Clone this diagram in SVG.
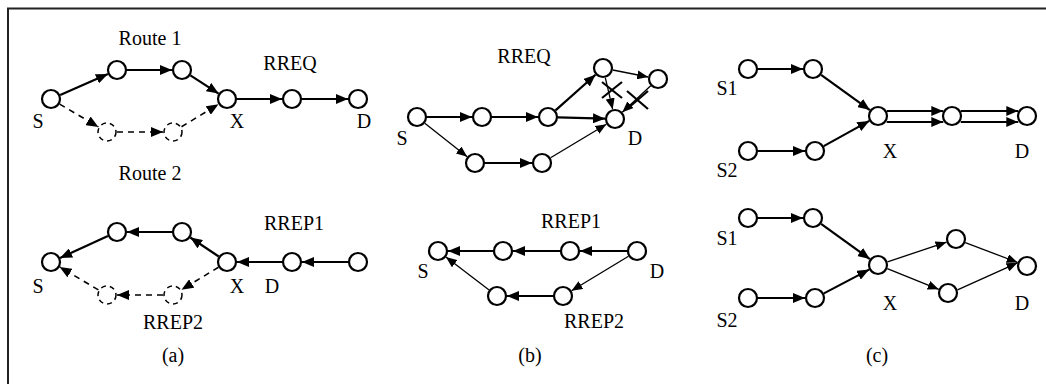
<svg xmlns="http://www.w3.org/2000/svg" width="1046" height="384" viewBox="0 0 1046 384">
<style>
.frame{fill:none;stroke:#222;stroke-width:2}
.n{fill:#fff;stroke:#000;stroke-width:2.2}
.nd{fill:#fff;stroke:#000;stroke-width:1.5;stroke-dasharray:5,4}
.th{stroke:#000;stroke-width:2.2;fill:none;marker-end:url(#ah)}
.tn{stroke:#000;stroke-width:1.3;fill:none;marker-end:url(#as)}
.ds{stroke:#000;stroke-width:1.6;fill:none;stroke-dasharray:6,5;marker-end:url(#ah)}
.x{stroke:#000;stroke-width:2.2}
text{font-family:"Liberation Serif","Times New Roman",serif;font-size:20px;fill:#000;text-anchor:middle}
</style>
<defs>
<marker id="ah" markerUnits="userSpaceOnUse" viewBox="0 0 12 10" markerWidth="12" markerHeight="10" refX="12" refY="5" orient="auto"><path d="M0,0 L12,5 L0,10 z" fill="#000"/></marker>
<marker id="as" markerUnits="userSpaceOnUse" viewBox="0 0 11 9" markerWidth="11" markerHeight="9" refX="11" refY="4.5" orient="auto"><path d="M0,0 L11,4.5 L0,9 z" fill="#000"/></marker>
</defs>
<path class="frame" d="M8,384 V8.5 H1046"/>

<g id="connectors">
<!-- (a) top -->
<line class="th" x1="60.2" y1="95" x2="107.9" y2="74"/>
<line class="th" x1="127" y1="70" x2="172" y2="70"/>
<line class="th" x1="190.4" y1="75.4" x2="218.6" y2="93.6"/>
<line class="th" x1="237" y1="99" x2="282" y2="99"/>
<line class="th" x1="302" y1="99" x2="348" y2="99"/>
<line class="ds" x1="59.6" y1="104.1" x2="98.4" y2="126.9"/>
<line class="ds" x1="117" y1="132" x2="163" y2="132"/>
<line class="ds" x1="181.5" y1="126.8" x2="218.5" y2="104.2"/>
<!-- (a) bottom -->
<line class="th" x1="107.9" y1="236.1" x2="60.1" y2="257.9"/>
<line class="th" x1="172" y1="232" x2="127" y2="232"/>
<line class="th" x1="218.7" y1="256.5" x2="190.3" y2="237.5"/>
<line class="th" x1="282" y1="262" x2="237" y2="262"/>
<line class="th" x1="348" y1="262" x2="302" y2="262"/>
<line class="ds" x1="218.5" y1="267.2" x2="181.5" y2="289.8"/>
<line class="ds" x1="163" y1="295" x2="117" y2="295"/>
<line class="ds" x1="98.4" y1="289.9" x2="59.6" y2="266.9"/>
<!-- (b) top -->
<line class="th" x1="427" y1="117" x2="472" y2="117"/>
<line class="th" x1="492" y1="117" x2="538" y2="117"/>
<line class="th" x1="558" y1="117.3" x2="605" y2="118.7"/>
<line class="th" x1="555.5" y1="110.4" x2="595.5" y2="74.7"/>
<line class="tn" x1="612.8" y1="70" x2="648.2" y2="77"/>
<line class="tn" x1="605.3" y1="77.7" x2="612.7" y2="109.3"/>
<line class="tn" x1="650.7" y1="85.8" x2="622.3" y2="112.2"/>
<line class="tn" x1="424.8" y1="123.2" x2="467.2" y2="156.8"/>
<line class="th" x1="485" y1="163" x2="532" y2="163"/>
<line class="tn" x1="550.6" y1="157.8" x2="606.4" y2="124.2"/>
<line class="x" x1="602" y1="82" x2="622" y2="98"/>
<line class="x" x1="602" y1="98" x2="622" y2="82"/>
<line class="x" x1="627" y1="91" x2="648" y2="109"/>
<line class="x" x1="627" y1="109" x2="648" y2="91"/>
<!-- (b) bottom -->
<line class="th" x1="627" y1="251" x2="580" y2="251"/>
<line class="th" x1="560" y1="251" x2="513" y2="251"/>
<line class="th" x1="493" y1="251" x2="448" y2="251"/>
<line class="tn" x1="628.5" y1="256.2" x2="571.5" y2="290.8"/>
<line class="th" x1="553" y1="296" x2="507" y2="296"/>
<line class="tn" x1="489.1" y1="289.9" x2="445.9" y2="257.1"/>
<!-- (c) top -->
<line class="th" x1="758" y1="69" x2="803" y2="69"/>
<line class="th" x1="821.1" y1="74.9" x2="869.9" y2="110.1"/>
<line class="th" x1="758" y1="151" x2="805" y2="151"/>
<line class="th" x1="823.7" y1="146.1" x2="869.3" y2="120.9"/>
<line class="th" x1="886.7" y1="111" x2="943.3" y2="111"/>
<line class="th" x1="886.7" y1="122" x2="943.3" y2="122"/>
<line class="th" x1="960.7" y1="111" x2="1018.3" y2="111"/>
<line class="th" x1="960.7" y1="122" x2="1018.3" y2="122"/>
<!-- (c) bottom -->
<line class="th" x1="758" y1="218" x2="803" y2="218"/>
<line class="th" x1="821.1" y1="223.9" x2="869.9" y2="259.1"/>
<line class="th" x1="758" y1="298" x2="805" y2="298"/>
<line class="th" x1="823.9" y1="293.4" x2="869.1" y2="269.6"/>
<line class="tn" x1="887.5" y1="261.8" x2="946.5" y2="242.2"/>
<line class="tn" x1="887.3" y1="268.7" x2="938.7" y2="289.3"/>
<line class="tn" x1="965.3" y1="242.6" x2="1017.7" y2="262.5"/>
<line class="tn" x1="957.5" y1="289.8" x2="1017.5" y2="262.8"/>
</g>

<!-- (a) top nodes -->
<g id="a1-S"><circle class="n" cx="51" cy="99" r="9"/><text x="38" y="128">S</text></g>
<g id="a1-n1"><circle class="n" cx="117" cy="70" r="9"/></g>
<g id="a1-n2"><circle class="n" cx="182" cy="70" r="9"/></g>
<g id="a1-X"><circle class="n" cx="227" cy="99" r="9"/><text x="237" y="128">X</text></g>
<g id="a1-n4"><circle class="n" cx="292" cy="99" r="9"/></g>
<g id="a1-D"><circle class="n" cx="358" cy="99" r="9"/><text x="364" y="128">D</text></g>
<g id="a1-d1"><circle class="nd" cx="107" cy="132" r="9"/></g>
<g id="a1-d2"><circle class="nd" cx="173" cy="132" r="9"/></g>
<g id="a1-labels"><text x="150" y="45">Route 1</text><text x="290" y="70">RREQ</text><text x="150" y="180">Route 2</text></g>

<!-- (a) bottom nodes -->
<g id="a2-S"><circle class="n" cx="51" cy="262" r="9"/><text x="38" y="293">S</text></g>
<g id="a2-n1"><circle class="n" cx="117" cy="232" r="9"/></g>
<g id="a2-n2"><circle class="n" cx="182" cy="232" r="9"/></g>
<g id="a2-X"><circle class="n" cx="227" cy="262" r="9"/><text x="237" y="293">X</text></g>
<g id="a2-D"><circle class="n" cx="292" cy="262" r="9"/><text x="272" y="293">D</text></g>
<g id="a2-n5"><circle class="n" cx="358" cy="262" r="9"/></g>
<g id="a2-d1"><circle class="nd" cx="107" cy="295" r="9"/></g>
<g id="a2-d2"><circle class="nd" cx="173" cy="295" r="9"/></g>
<g id="a2-labels"><text x="294" y="230">RREP1</text><text x="173" y="329">RREP2</text><text x="173" y="362">(a)</text></g>

<!-- (b) top nodes -->
<g id="b1-S"><circle class="n" cx="417" cy="117" r="9"/><text x="402" y="145">S</text></g>
<g id="b1-a"><circle class="n" cx="482" cy="117" r="9"/></g>
<g id="b1-b"><circle class="n" cx="548" cy="117" r="9"/></g>
<g id="b1-D"><circle class="n" cx="615" cy="119" r="9"/><text x="635" y="145">D</text></g>
<g id="b1-u1"><circle class="n" cx="603" cy="68" r="9"/></g>
<g id="b1-u2"><circle class="n" cx="658" cy="79" r="9"/></g>
<g id="b1-l1"><circle class="n" cx="475" cy="163" r="9"/></g>
<g id="b1-l2"><circle class="n" cx="542" cy="163" r="9"/></g>
<g id="b1-labels"><text x="524" y="63">RREQ</text></g>

<!-- (b) bottom nodes -->
<g id="b2-S"><circle class="n" cx="438" cy="251" r="9"/><text x="423" y="278">S</text></g>
<g id="b2-a"><circle class="n" cx="503" cy="251" r="9"/></g>
<g id="b2-b"><circle class="n" cx="570" cy="251" r="9"/></g>
<g id="b2-D"><circle class="n" cx="637" cy="251" r="9"/><text x="657" y="278">D</text></g>
<g id="b2-l1"><circle class="n" cx="497" cy="296" r="9"/></g>
<g id="b2-l2"><circle class="n" cx="563" cy="296" r="9"/></g>
<g id="b2-labels"><text x="571" y="228">RREP1</text><text x="594" y="328">RREP2</text><text x="530" y="362">(b)</text></g>

<!-- (c) top nodes -->
<g id="c1-S1"><circle class="n" cx="748" cy="69" r="9"/><text x="727" y="95">S1</text></g>
<g id="c1-s1b"><circle class="n" cx="813" cy="69" r="9"/></g>
<g id="c1-S2"><circle class="n" cx="748" cy="151" r="9"/><text x="727" y="177">S2</text></g>
<g id="c1-s2b"><circle class="n" cx="815" cy="151" r="9"/></g>
<g id="c1-X"><circle class="n" cx="878" cy="116" r="9"/><text x="890" y="158">X</text></g>
<g id="c1-m"><circle class="n" cx="952" cy="116" r="9"/></g>
<g id="c1-D"><circle class="n" cx="1027" cy="116" r="9"/><text x="1022" y="158">D</text></g>

<!-- (c) bottom nodes -->
<g id="c2-S1"><circle class="n" cx="748" cy="218" r="9"/><text x="727" y="245">S1</text></g>
<g id="c2-s1b"><circle class="n" cx="813" cy="218" r="9"/></g>
<g id="c2-S2"><circle class="n" cx="748" cy="298" r="9"/><text x="727" y="327">S2</text></g>
<g id="c2-s2b"><circle class="n" cx="815" cy="298" r="9"/></g>
<g id="c2-X"><circle class="n" cx="878" cy="265" r="9"/><text x="890" y="310">X</text></g>
<g id="c2-u"><circle class="n" cx="956" cy="239" r="9"/></g>
<g id="c2-l"><circle class="n" cx="948" cy="293" r="9"/></g>
<g id="c2-D"><circle class="n" cx="1027" cy="266" r="9"/><text x="1022" y="310">D</text></g>
<g id="c2-labels"><text x="877" y="362">(c)</text></g>
</svg>
